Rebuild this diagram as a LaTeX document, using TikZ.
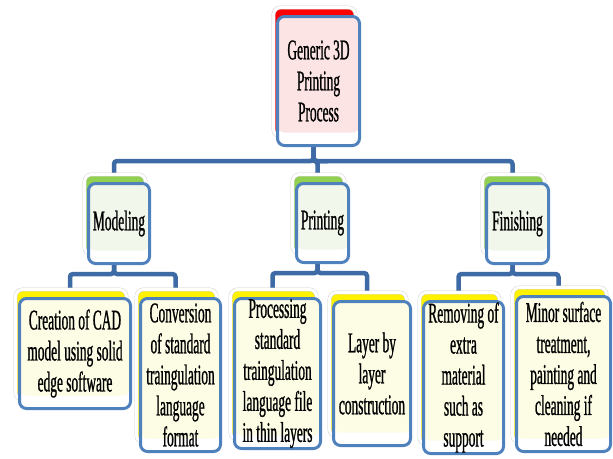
\documentclass[tikz,border=0pt]{standalone}
\usepackage{fontspec}
\setmainfont{Liberation Serif}[FakeStretch=0.47,FakeBold=0.8]
\usetikzlibrary{shadows,backgrounds}
\definecolor{boxblue}{HTML}{4F81BD}
\definecolor{linkblue}{HTML}{3E6AA5}
\definecolor{pinkfill}{HTML}{FCE4E4}
\definecolor{greenfill}{HTML}{F2F7EC}
\definecolor{creamfill}{HTML}{FDFDE6}
\definecolor{leafgreen}{HTML}{92D050}
\def \tu {1pt}

\begin{document}
\begin{tikzpicture}[x=\tu,y=-\tu,
    box/.style={draw=boxblue,line width=3pt,rounded corners=7pt,fill=white,inner sep=0pt,
      align=center,font=\fontsize{28.5}{31}\selectfont},
    back/.style={copy shadow={shadow xshift=-4pt,shadow yshift=9pt,fill=#1,draw=gray!40,
      double=white,double distance=3pt,line width=0.4pt}},
    tint/.style={path picture={\fill[#1] (path picture bounding box.north west)
      rectangle ([yshift=13pt]path picture bounding box.south east);}},
    link/.style={draw=linkblue,line width=4.5pt,rounded corners=3pt}]
    \useasboundingbox (0,0) rectangle (613,458);
    \node[box,back=red,tint=pinkfill,minimum width=82,minimum height=129] (gen) at (318.5,81) {Generic 3D\\Printing\\Process};
    \node[box,back=leafgreen,tint=greenfill,minimum width=61,minimum height=80] (mod) at (119,223.5) {Modeling};
    \node[box,back=leafgreen,tint=greenfill,minimum width=52,minimum height=79] (prt) at (322.5,223) {Printing};
    \node[box,back=leafgreen,tint=greenfill,minimum width=62,minimum height=80] (fin) at (517.5,223.5) {Finishing};
    \node[box,back=yellow,tint=creamfill,minimum width=111,minimum height=110] (cad) at (75,353.5) {Creation of CAD\\model using solid\\edge software};
    \node[box,back=yellow,tint=creamfill,minimum width=80,minimum height=153] (stl) at (180.5,375) {Conversion\\of standard\\traingulation\\language\\format};
    \node[box,back=yellow,tint=creamfill,minimum width=86,minimum height=150] (slc) at (277.5,373.5) {Processing\\standard\\traingulation\\language file\\in thin layers};
    \node[box,back=yellow,tint=creamfill,minimum width=77,minimum height=144] (lyr) at (372,373.5) {Layer by\\layer\\construction};
    \node[box,back=yellow,tint=creamfill,minimum width=80,minimum height=152] (rem) at (463.5,377.5) {Removing of\\extra\\material\\such as\\support};
    \node[box,back=yellow,tint=creamfill,minimum width=94,minimum height=155] (srf) at (563.5,374) {Minor surface\\treatment,\\painting and\\cleaning if\\needed};
    \begin{scope}[on background layer]
    \foreach \c in {mod,prt,fin}
      \draw[link] ([xshift=-5]gen.south) -- ++(0,14) -| ([xshift=-5]\c.north);
    \foreach \p/\c in {mod/cad,mod/stl,prt/slc,prt/lyr,fin/rem,fin/srf}
      \draw[link] ([xshift=-5]\p.south) -- ++(0,9) -| ([xshift=-5]\c.north);
    \end{scope}
\end{tikzpicture}
\end{document}
